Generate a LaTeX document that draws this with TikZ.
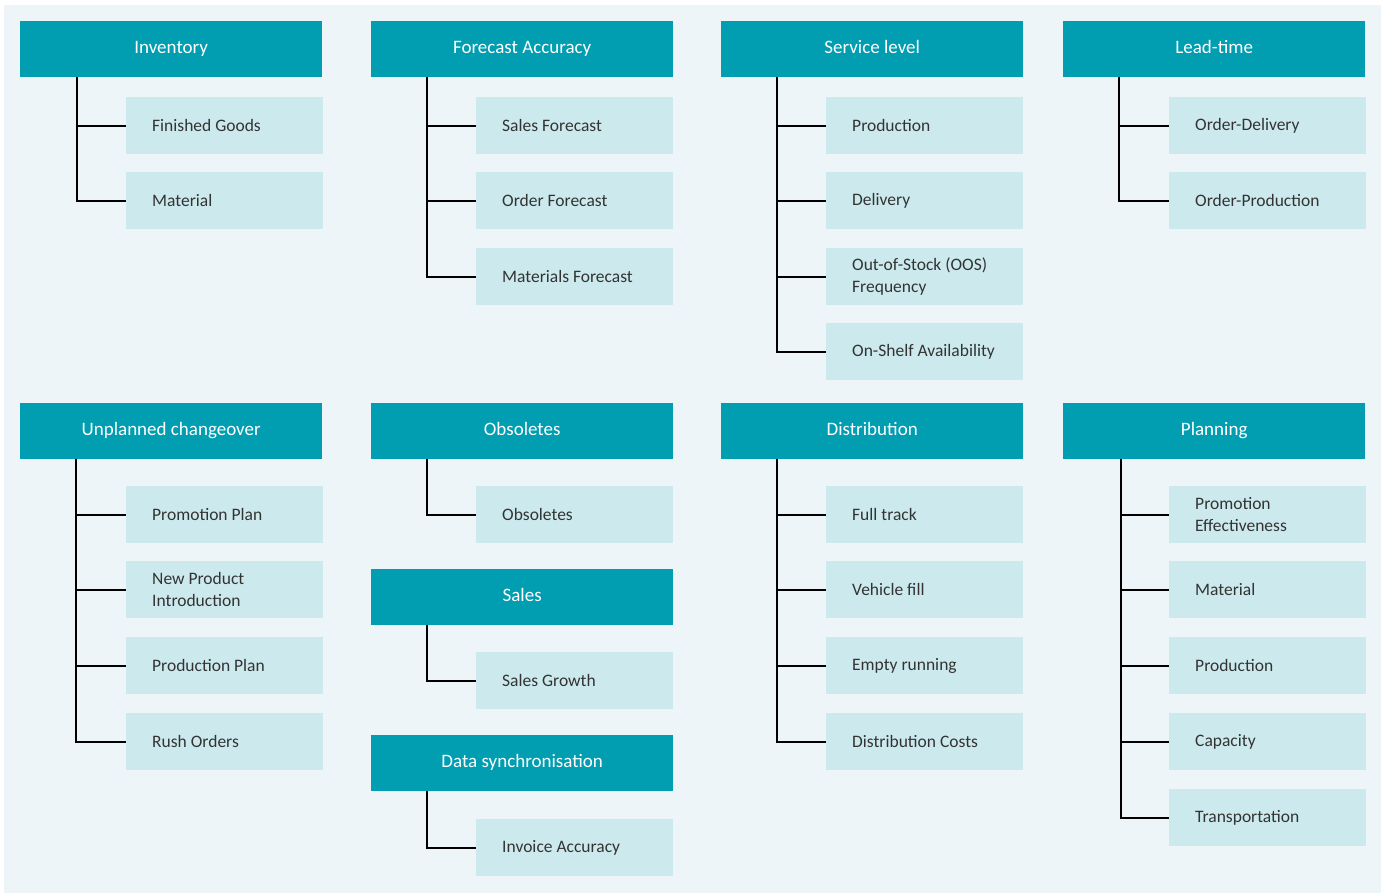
\documentclass[tikz,border=0pt]{standalone}
\usepackage{fontspec}
\setmainfont{Carlito}
\definecolor{hdrfill}{HTML}{019DB1}
\definecolor{kidfill}{HTML}{CCEAEE}
\definecolor{panel}{HTML}{EDF5F8}
\definecolor{txt}{HTML}{333333}
\tikzset{
  hdr/.style={fill=hdrfill, text=white, anchor=north west, inner sep=0,
    minimum width=302, minimum height=56, text height=13, text depth=4,
    font=\fontsize{19}{22}\selectfont},
  kid/.style={fill=kidfill, anchor=north west, inner sep=0,
    minimum width=197, minimum height=57,
    label={[anchor=west, xshift=26, inner sep=0, text=txt, align=left,
      font=\fontsize{17.5}{22}\selectfont]west:#1}},
  link/.style={draw=black, line width=2pt}
}
\begin{document}
\begin{tikzpicture}[x=1pt, y=-1pt]
\useasboundingbox (0,0) rectangle (1387,894);
\fill[white] (0,0) rectangle (1387,894);
\fill[panel] (4,5) rectangle (1381,893);

% ---------- top row ----------
\node[hdr] (inv) at (20,21) {Inventory};
\node[kid={Finished Goods}] (inv1) at (126,97) {};
\node[kid={Material}] (inv2) at (126,172) {};

\node[hdr] (fa) at (371,21) {Forecast Accuracy};
\node[kid={Sales Forecast}] (fa1) at (476,97) {};
\node[kid={Order Forecast}] (fa2) at (476,172) {};
\node[kid={Materials Forecast}] (fa3) at (476,248) {};

\node[hdr] (sl) at (721,21) {Service level};
\node[kid={Production}] (sl1) at (826,97) {};
\node[kid={Delivery}] (sl2) at (826,172) {};
\node[kid={Out-of-Stock (OOS)\\Frequency}] (sl3) at (826,248) {};
\node[kid={On-Shelf Availability}] (sl4) at (826,323) {};

\node[hdr] (lt) at (1063,21) {Lead-time};
\node[kid={Order-Delivery}] (lt1) at (1169,97) {};
\node[kid={Order-Production}] (lt2) at (1169,172) {};

% ---------- bottom row ----------
\node[hdr] (uc) at (20,403) {Unplanned changeover};
\node[kid={Promotion Plan}] (uc1) at (126,486) {};
\node[kid={New Product\\Introduction}] (uc2) at (126,561) {};
\node[kid={Production Plan}] (uc3) at (126,637) {};
\node[kid={Rush Orders}] (uc4) at (126,713) {};

\node[hdr] (ob) at (371,403) {Obsoletes};
\node[kid={Obsoletes}] (ob1) at (476,486) {};
\node[hdr] (sa) at (371,569) {Sales};
\node[kid={Sales Growth}] (sa1) at (476,652) {};
\node[hdr] (ds) at (371,735) {Data synchronisation};
\node[kid={Invoice Accuracy}] (ds1) at (476,819) {};

\node[hdr] (di) at (721,403) {Distribution};
\node[kid={Full track}] (di1) at (826,486) {};
\node[kid={Vehicle fill}] (di2) at (826,561) {};
\node[kid={Empty running}] (di3) at (826,637) {};
\node[kid={Distribution Costs}] (di4) at (826,713) {};

\node[hdr] (pl) at (1063,403) {Planning};
\node[kid={Promotion\\Effectiveness}] (pl1) at (1169,486) {};
\node[kid={Material}] (pl2) at (1169,561) {};
\node[kid={Production}] (pl3) at (1169,637) {};
\node[kid={Capacity}] (pl4) at (1169,713) {};
\node[kid={Transportation}] (pl5) at (1169,789) {};

% ---------- connectors: trunk from each header, branch to each child ----------
\foreach \h/\off/\kids in {inv/57/{inv1,inv2}, fa/56/{fa1,fa2,fa3},
    sl/56/{sl1,sl2,sl3,sl4}, lt/56/{lt1,lt2},
    uc/56/{uc1,uc2,uc3,uc4}, ob/56/{ob1}, sa/56/{sa1}, ds/56/{ds1},
    di/56/{di1,di2,di3,di4}, pl/58/{pl1,pl2,pl3,pl4,pl5}}
  \foreach \k in \kids
    \draw[link] ([xshift=\off]\h.south west) |- (\k.west);
\end{tikzpicture}
\end{document}
